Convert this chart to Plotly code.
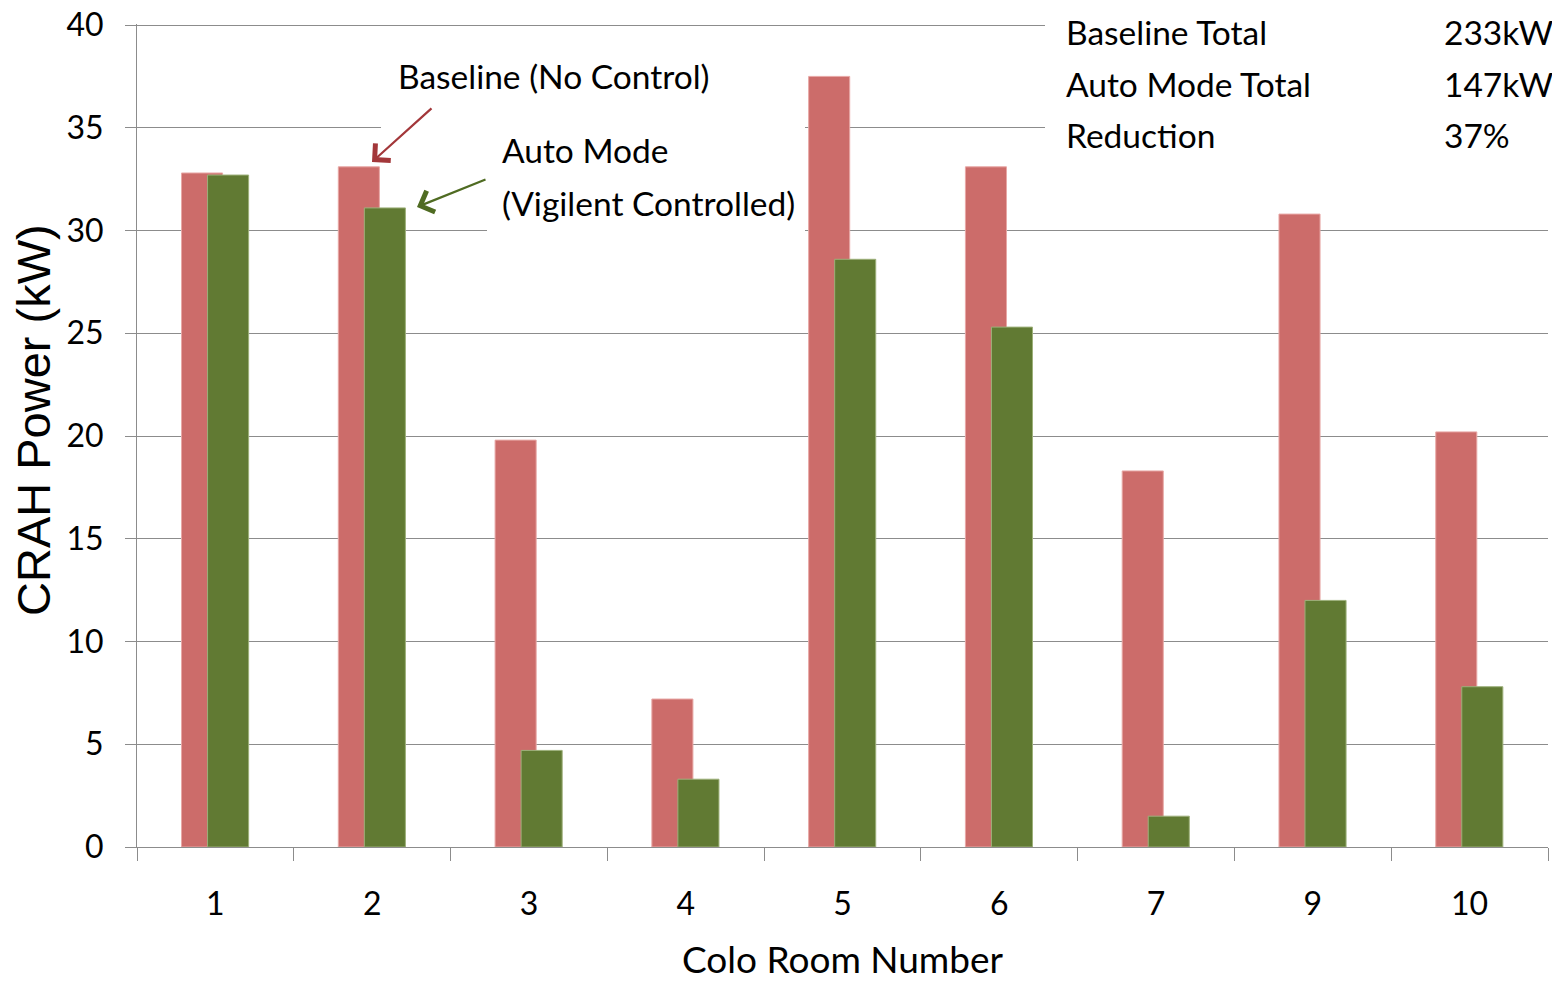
import plotly.graph_objects as go

rooms = ["1", "2", "3", "4", "5", "6", "7", "9", "10"]
baseline = [32.8, 33.1, 19.8, 7.2, 37.5, 33.1, 18.3, 30.8, 20.2]
auto_mode = [32.7, 31.1, 4.7, 3.3, 28.6, 25.3, 1.5, 12.0, 7.8]
y_ticks = [0, 5, 10, 15, 20, 25, 30, 35, 40]
table_labels = ["Baseline Total", "Auto Mode Total", "Reduction"]
table_values = ["233kW", "147kW", "37%"]

# page has an 8px body margin; figure coordinates = page coordinates - 8
OFF = 8
W, H = 1560 - OFF, 981 - OFF
L, R, T, B = 137 - OFF, 1548 - OFF, 24 - OFF, 847 - OFF
FONT = "Lato"


def px(xp):
    return (xp - OFF - L) / (R - L)


def py(yp):
    return (B - (yp - OFF)) / (B - T)


fig = go.Figure()
fig.add_trace(go.Bar(
    x=rooms, y=baseline, name="Baseline (No Control)",
    width=0.262, offset=-0.216,
    marker=dict(color="#CC6C6A", line=dict(color="#E8A8A6", width=1)),
))
fig.add_trace(go.Bar(
    x=rooms, y=auto_mode, name="Auto Mode (Vigilent Controlled)",
    width=0.262, offset=-0.05,
    marker=dict(color="#617A33", line=dict(color="#9DB07A", width=1)),
))

grid_c = "#8C8C8C"
fig.update_layout(
    width=W, height=H,
    margin=dict(l=L, r=W - R, t=T, b=H - B, pad=0, autoexpand=False),
    plot_bgcolor="white", paper_bgcolor="white",
    barmode="overlay", showlegend=False,
    font=dict(family=FONT, color="black"),
    xaxis=dict(
        type="category", categoryorder="array", categoryarray=rooms,
        range=[-0.5, len(rooms) - 0.5], automargin=False,
        showgrid=False, showline=True, linecolor=grid_c, linewidth=1,
        ticks="outside", tickson="boundaries", ticklen=13, tickcolor=grid_c,
        tickfont=dict(size=32, family=FONT), ticklabelstandoff=29,
        ticklabeloverflow="allow",
        title=dict(text="Colo Room Number", font=dict(size=37, family=FONT), standoff=45),
    ),
    yaxis=dict(
        range=[0, 40.05], tickvals=y_ticks, ticktext=[str(v) for v in y_ticks],
        automargin=False,
        showgrid=True, gridcolor=grid_c, gridwidth=1,
        showline=True, linecolor=grid_c, linewidth=1,
        ticks="outside", ticklen=11, tickcolor=grid_c,
        tickfont=dict(size=32, family=FONT), ticklabelstandoff=15,
        ticklabeloverflow="allow",
        zeroline=False,
    ),
)

# y axis title placed as rotated annotation
fig.add_annotation(xref="paper", yref="paper", x=px(33), y=py(420), text="CRAH Power (kW)",
                   textangle=-90, showarrow=False, xanchor="center", yanchor="middle",
                   font=dict(size=47, family="Liberation Sans", color="black"))

# white boxes hiding gridlines behind the text blocks (page pixel coords)
for x0, x1, y0, y1 in [(381, 722, 50, 140), (487, 805, 118, 240), (1045, 1560, 8, 165)]:
    fig.add_shape(type="rect", xref="paper", yref="paper",
                  x0=px(x0), x1=px(x1), y0=py(y1), y1=py(y0),
                  fillcolor="white", line=dict(width=0), layer="above")

txt = dict(size=33.5, family=FONT, color="black")
fig.add_annotation(xref="paper", yref="paper", x=px(396), y=py(76), text="Baseline (No Control)",
                   showarrow=False, xanchor="left", yanchor="middle", font=txt)
fig.add_annotation(xref="paper", yref="paper", x=px(500), y=py(150), text="Auto Mode",
                   showarrow=False, xanchor="left", yanchor="middle", font=txt)
fig.add_annotation(xref="paper", yref="paper", x=px(500), y=py(203), text="(Vigilent Controlled)",
                   showarrow=False, xanchor="left", yanchor="middle", font=txt)

# arrows
fig.add_annotation(xref="paper", yref="paper", x=px(372), y=py(162), ax=61, ay=-55, text="",
                   showarrow=True, arrowhead=4, arrowsize=2.0, arrowwidth=2.2, arrowcolor="#A3373A")
fig.add_annotation(xref="paper", yref="paper", x=px(417), y=py(207), ax=70, ay=-28, text="",
                   showarrow=True, arrowhead=4, arrowsize=2.0, arrowwidth=2.2, arrowcolor="#4F6B22")

row_y = [32, 84, 135]
for lab, val, yy in zip(table_labels, table_values, row_y):
    fig.add_annotation(xref="paper", yref="paper", x=px(1064), y=py(yy), text=lab,
                       showarrow=False, xanchor="left", yanchor="middle", font=txt)
    fig.add_annotation(xref="paper", yref="paper", x=px(1442), y=py(yy), text=val,
                       showarrow=False, xanchor="left", yanchor="middle", font=txt)

fig.write_html("out.html")
